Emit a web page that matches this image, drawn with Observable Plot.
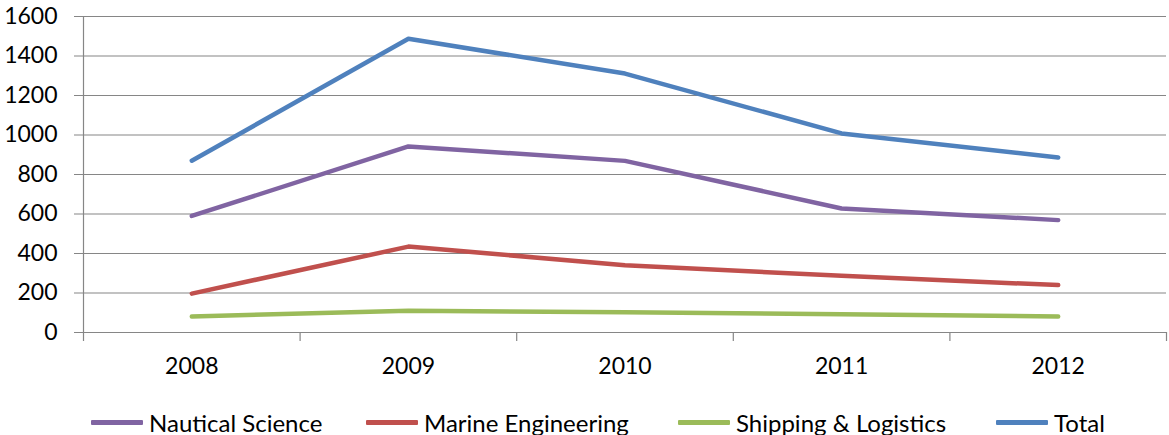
<!DOCTYPE html>
<html>
<head>
<meta charset="utf-8">
<script src="https://cdn.jsdelivr.net/npm/d3@7"></script>
<script src="https://cdn.jsdelivr.net/npm/@observablehq/plot@0.6"></script>
<style>
  html, body { margin: 0; padding: 0; background: #fff; }
  #wrap { position: relative; width: 1169px; height: 435px; font-family: Lato, "Open Sans", sans-serif; }
  #legend { position: absolute; left: 0; top: 408px; width: 1169px; height: 28px; font-size: 24px; color: #000; }
  .item { position: absolute; top: 0; height: 28px; display: flex; align-items: center; gap: 6px; white-space: nowrap; }
  .swatch { width: 52px; height: 5px; border-radius: 1px; }
</style>
</head>
<body>
<div id="wrap"><div id="legend"></div></div>
<script>
// Enrolment by programme, 2008–2012
const years = ["2008", "2009", "2010", "2011", "2012"];
const series = ["Nautical Science", "Marine Engineering", "Shipping & Logistics", "Total"];
const nautical = [590, 942, 869, 628, 569];
const marine = [197, 435, 341, 287, 240];
const shipping = [81, 110, 103, 93, 81];
const total = [870, 1487, 1311, 1008, 886];
const colors = ["#8064A2", "#C0504D", "#9BBB59", "#4F81BD"];
const yTicks = [0, 200, 400, 600, 800, 1000, 1200, 1400, 1600];

const valuesBySeries = [nautical, marine, shipping, total];
const rows = series.flatMap((name, s) =>
  valuesBySeries[s].map((value, i) => ({series: name, i, value}))
);
// category boundaries sit halfway between the year positions
const boundaries = d3.range(years.length + 1).map(i => i - 0.5);
const gray = "#868686";

const chart = Plot.plot({
  width: 1169,
  height: 392,
  marginLeft: 83,
  marginRight: 3,
  marginTop: 16,
  marginBottom: 60,
  style: {fontFamily: "Lato, 'Open Sans', sans-serif", fontSize: "23px", color: "#000", background: "#fff"},
  x: {type: "linear", domain: [-0.5, years.length - 0.5], axis: null},
  y: {domain: [0, 1600], axis: null},
  color: {domain: series, range: colors},
  marks: [
    Plot.ruleY(yTicks, {y: d => d, stroke: gray, strokeWidth: 1.2, insetLeft: -9}),
    Plot.ruleX([boundaries[0]], {x: d => d, stroke: gray, strokeWidth: 1.2}),
    Plot.ruleX(boundaries, {x: d => d, y1: 0, y2: 0, insetBottom: -9, stroke: gray, strokeWidth: 1.2}),
    Plot.text(yTicks, {x: boundaries[0], y: d => d, text: d => String(d), textAnchor: "end", dx: -26, fill: "#000"}),
    Plot.text(years, {x: (d, i) => i, y: 0, text: d => d, dy: 34, fill: "#000"}),
    Plot.line(rows, {x: "i", y: "value", z: "series", stroke: "series", strokeWidth: 4.5, strokeLinecap: "round", strokeLinejoin: "round"})
  ]
});
document.getElementById("wrap").prepend(chart);

// legend row below the chart
const legendLeft = [91, 366, 678, 996];
const legend = d3.select("#legend");
series.forEach((name, s) => {
  const item = legend.append("div").attr("class", "item").style("left", legendLeft[s] + "px");
  item.append("div").attr("class", "swatch").style("background", colors[s]);
  item.append("span").text(name);
});
</script>
</body>
</html>
